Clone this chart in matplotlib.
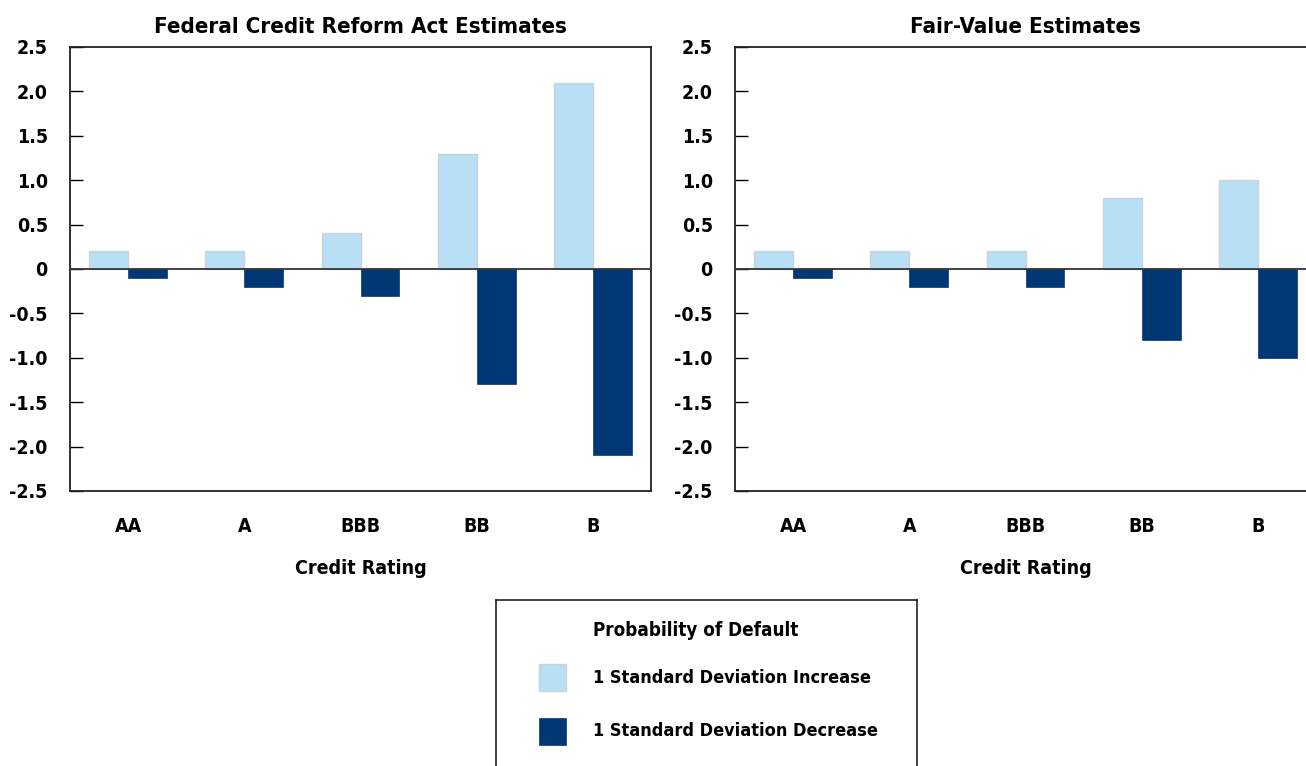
import numpy as np
import matplotlib
matplotlib.use('Agg')
import matplotlib.pyplot as plt
from matplotlib.patches import Rectangle

plt.rcParams['font.family'] = ['Liberation Sans Narrow', 'DejaVu Sans']
plt.rcParams['font.stretch'] = 'condensed'
plt.rcParams['font.weight'] = 'bold'

# data
ratings = ['AA', 'A', 'BBB', 'BB', 'B']
fcra_increase = [0.2, 0.2, 0.4, 1.3, 2.1]
fcra_decrease = [-0.1, -0.2, -0.3, -1.3, -2.1]
fair_increase = [0.2, 0.2, 0.2, 0.8, 1.0]
fair_decrease = [-0.1, -0.2, -0.2, -0.8, -1.0]
yticks = [2.5, 2.0, 1.5, 1.0, 0.5, 0, -0.5, -1.0, -1.5, -2.0, -2.5]
ytick_labels = ['2.5', '2.0', '1.5', '1.0', '0.5', '0', '-0.5', '-1.0', '-1.5', '-2.0', '-2.5']

light = '#B8DFF3'
light_edge = '#C9D3DB'
dark = '#003876'

fig = plt.figure(figsize=(13.06, 7.66), dpi=100)

W = 581 / 1306
H = 444 / 766
B = 1 - 491 / 766


def panel(left, title, inc, dec):
    ax = fig.add_axes([left, B, W, H])
    x = np.arange(len(ratings))
    w = 0.335
    ax.bar(x - w / 2, inc, width=w, color=light, edgecolor=light_edge, linewidth=1, zorder=2)
    ax.bar(x + w / 2, dec, width=w, color=dark, edgecolor=dark, linewidth=0.5, zorder=2)
    ax.axhline(0, color='#333333', linewidth=1.3, zorder=3)
    ax.set_xlim(-0.5, 4.5)
    ax.set_ylim(-2.5, 2.5)
    ax.set_yticks(yticks)
    ax.set_yticklabels(ytick_labels)
    ax.set_xticks(x)
    ax.set_xticklabels(ratings)
    ax.tick_params(axis='y', direction='in', length=9.5, width=1, pad=16, labelsize=14)
    ax.tick_params(axis='x', length=0, pad=19, labelsize=14)
    for s in ax.spines.values():
        s.set_linewidth(1.3)
        s.set_color('#222222')
    ax.set_xlabel('Credit Rating', fontsize=14, fontweight='bold', labelpad=16)
    ax.set_title(title, fontsize=16, fontweight='bold', pad=10)
    return ax


panel(70 / 1306, 'Federal Credit Reform Act Estimates', fcra_increase, fcra_decrease)
panel(735 / 1306, 'Fair-Value Estimates', fair_increase, fair_decrease)

# legend box
lx0, lx1 = 496 / 1306, 917 / 1306
ly1 = 1 - 600 / 766
lg = fig.add_axes([lx0, ly1 - 0.3, lx1 - lx0, 0.3])
lg.set_xlim(496, 917)
lg.set_ylim(600 + 0.3 * 766, 600)
lg.set_xticks([])
lg.set_yticks([])
for s in lg.spines.values():
    s.set_linewidth(1.2)
    s.set_color('#222222')
lg.text(593, 631, 'Probability of Default', fontsize=13.5, fontweight='bold', va='center')
lg.add_patch(Rectangle((539, 664), 27, 27, facecolor=light, edgecolor=light_edge, linewidth=1))
lg.add_patch(Rectangle((539, 718), 27, 27, facecolor=dark, edgecolor=dark, linewidth=0.5))
lg.text(593, 678, '1 Standard Deviation Increase', fontsize=13, fontweight='bold', va='center')
lg.text(593, 731, '1 Standard Deviation Decrease', fontsize=13, fontweight='bold', va='center')

fig.savefig('out.png', dpi=100)
